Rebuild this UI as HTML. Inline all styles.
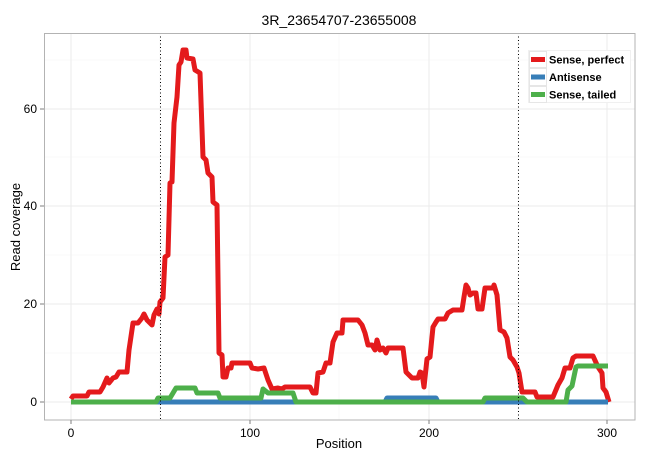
<!DOCTYPE html>
<html><head><meta charset="utf-8"><style>
html,body{margin:0;padding:0;background:#fff;}
svg{display:block;font-family:"Liberation Sans",Arial,sans-serif;}
</style></head><body>
<svg width="650" height="460" viewBox="0 0 650 460" xmlns="http://www.w3.org/2000/svg">
<rect width="650" height="460" fill="#fff"/>
<text x="339" y="25" font-size="14" text-anchor="middle" fill="#000">3R_23654707-23655008</text>
<g stroke="#f5f5f5" stroke-width="0.6">
<line x1="44" x2="635" y1="353" y2="353"/><line x1="44" x2="635" y1="255" y2="255"/><line x1="44" x2="635" y1="157" y2="157"/><line x1="44" x2="635" y1="60" y2="60"/>
<line y1="33" y2="420" x1="160" x2="160"/><line y1="33" y2="420" x1="339" x2="339"/><line y1="33" y2="420" x1="518" x2="518"/>
</g>
<g stroke="#ebebeb" stroke-width="1">
<line x1="44" x2="635" y1="402" y2="402"/><line x1="44" x2="635" y1="304" y2="304"/><line x1="44" x2="635" y1="206" y2="206"/><line x1="44" x2="635" y1="109" y2="109"/>
<line y1="33" y2="420" x1="71" x2="71"/><line y1="33" y2="420" x1="250" x2="250"/><line y1="33" y2="420" x1="429" x2="429"/><line y1="33" y2="420" x1="607" x2="607"/>
</g>
<g fill="none" stroke-width="5" stroke-linejoin="round" stroke-linecap="butt">
<polyline stroke="#E41A1C" points="71,399 73,396 87,396 89,392 100,392 103,387 107,378 109,383 113,378 116,377 119,372 127,372 129,350 133,323 138,323 142,318 144,314 147,320 152,325 154,315 157,309 159,314 160,302 163,298 165,257 168,255 170,183 172,182 174,123 177,97 179,65 181,62 183,50 186,50 187,58 193,59 195,70 200,73 203,157 206,160 208,173 212,177 213,202 217,205 219,353 222,355 223,377 226,377 228,368 231,368 232,363 250,363 252,368 258,369 264,368 268,380 272,389 278,388 282,389 285,387 310,387 313,393 316,393 318,373 323,372 326,363 330,363 333,342 337,333 342,333 343,320 358,320 362,325 365,333 368,345 372,345 375,350 377,340 380,350 383,348 386,353 388,348 403,348 406,372 412,378 418,378 420,372 422,373 424,387 427,359 430,357 433,327 436,322 438,319 445,319 448,313 453,310 462,310 464,297 466,285 468,288 470,295 473,293 476,293 478,309 482,309 485,288 493,288 494,285 497,295 500,330 504,332 507,338 510,357 513,360 517,367 519,373 522,392 535,392 537,397 553,397 558,385 562,378 565,368 570,368 573,358 576,356 593,356 598,367 602,373 603,388 606,392 609,402"/>
<polyline stroke="#377EB8" points="71,402 385,402 387,398 436,398 438,402 608,402"/>
<polyline stroke="#4DAF4A" points="71,402 156,402 158,398 170,398 176,388 195,388 197,393 218,393 220,398 261,398 263,389 268,393 293,393 296,402 483,402 485,398 523,398 527,402 566,402 568,390 572,386 576,367 578,366 608,366"/>
</g>
<g stroke="#000" stroke-width="1" stroke-dasharray="1,2.5">
<line x1="160.5" x2="160.5" y1="33" y2="420"/><line x1="518.5" x2="518.5" y1="33" y2="420"/>
</g>
<rect x="44.5" y="33.5" width="590.5" height="386.5" fill="none" stroke="#b3b3b3" stroke-width="1"/>
<g stroke="#7f7f7f" stroke-width="1">
<line x1="40" x2="44" y1="402" y2="402"/><line x1="40" x2="44" y1="304" y2="304"/><line x1="40" x2="44" y1="206" y2="206"/><line x1="40" x2="44" y1="109" y2="109"/>
<line y1="420" y2="424" x1="71" x2="71"/><line y1="420" y2="424" x1="250" x2="250"/><line y1="420" y2="424" x1="429" x2="429"/><line y1="420" y2="424" x1="607" x2="607"/>
</g>
<g font-size="12" fill="#000" text-anchor="end">
<text x="37" y="406">0</text><text x="37" y="308">20</text><text x="37" y="210">40</text><text x="37" y="113">60</text>
</g>
<g font-size="12" fill="#000" text-anchor="middle">
<text x="71" y="437">0</text><text x="250" y="437">100</text><text x="429" y="437">200</text><text x="607" y="437">300</text>
</g>
<text x="339" y="448" font-size="13" text-anchor="middle">Position</text>
<text transform="translate(20,227) rotate(-90)" font-size="13" text-anchor="middle">Read coverage</text>
<rect x="528.5" y="50.5" width="102" height="52" fill="#fff" stroke="#f0f0f0"/>
<g stroke="#e6e6e6" fill="none"><rect x="529.5" y="51.5" width="17" height="16"/><rect x="529.5" y="68.5" width="17" height="17"/><rect x="529.5" y="86.5" width="17" height="16"/></g>
<line x1="531" x2="545" y1="59.5" y2="59.5" stroke="#E41A1C" stroke-width="5"/>
<line x1="531" x2="545" y1="77" y2="77" stroke="#377EB8" stroke-width="5"/>
<line x1="531" x2="545" y1="94.5" y2="94.5" stroke="#4DAF4A" stroke-width="5"/>
<g font-size="11" font-weight="bold" fill="#000">
<text x="549" y="63.5">Sense, perfect</text><text x="549" y="81">Antisense</text><text x="549" y="98.5">Sense, tailed</text>
</g>
</svg>
</body></html>
